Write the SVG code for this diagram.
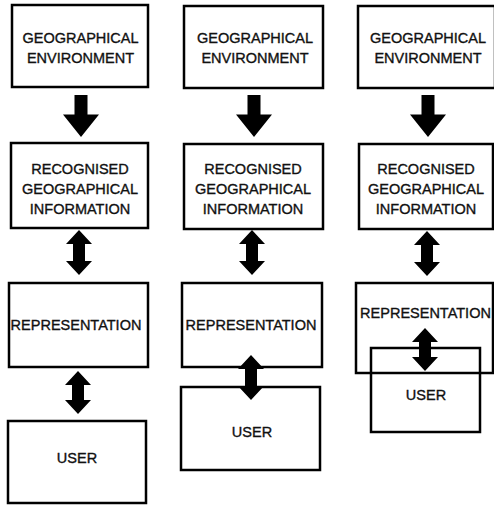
<svg xmlns="http://www.w3.org/2000/svg" xmlns:xlink="http://www.w3.org/1999/xlink" width="494" height="506" viewBox="0 0 494 506">
<style>
.box{fill:none;stroke:#000;stroke-width:2.5}
.lbl{font-family:"Liberation Sans",Arial,Helvetica,sans-serif;font-size:14.5px;fill:#111;stroke:#111;stroke-width:0.35;text-anchor:middle}
.arr{fill:#000}
</style>
<defs>
<polygon id="down" class="arr" points="-6.5,0 6.5,0 6.5,19.5 18,19.5 0,42 -18,19.5 -6.5,19.5"/>
<polygon id="dbl" class="arr" points="0,0 13,14 6,14 6,31 13,31 0,45 -13,31 -6,31 -6,14 -13,14"/>
<polygon id="dbl2" class="arr" points="0,0 13,14 6,14 6,29 13,29 0,43 -13,29 -6,29 -6,14 -13,14"/>
</defs>
<rect width="494" height="506" fill="#fff"/>

<g id="col1">
<g id="geo-env-1"><rect class="box" x="12" y="5" width="136" height="82"/>
<text class="lbl" x="80.5" y="42.5">GEOGRAPHICAL</text><text class="lbl" x="80.5" y="62.5">ENVIRONMENT</text></g>
<g id="rec-info-1"><rect class="box" x="11" y="143" width="137" height="85"/>
<text class="lbl" x="80" y="173.5">RECOGNISED</text><text class="lbl" x="80" y="193.5">GEOGRAPHICAL</text><text class="lbl" x="80" y="213.5">INFORMATION</text></g>
<g id="repr-1"><rect class="box" x="9" y="283" width="139" height="84"/>
<text class="lbl" x="76" y="330">REPRESENTATION</text></g>
<g id="user-1"><rect class="box" x="8" y="421" width="138" height="82"/>
<text class="lbl" x="77" y="463">USER</text></g>
</g>

<g id="col2">
<g id="geo-env-2"><rect class="box" x="184" y="6" width="139" height="82"/>
<text class="lbl" x="255" y="42.5">GEOGRAPHICAL</text><text class="lbl" x="255" y="62.5">ENVIRONMENT</text></g>
<g id="rec-info-2"><rect class="box" x="184" y="144" width="139" height="85"/>
<text class="lbl" x="253" y="173.5">RECOGNISED</text><text class="lbl" x="253" y="193.5">GEOGRAPHICAL</text><text class="lbl" x="253" y="213.5">INFORMATION</text></g>
<g id="repr-2"><rect class="box" x="182" y="283" width="140" height="84"/>
<text class="lbl" x="251" y="330">REPRESENTATION</text></g>
<g id="user-2"><rect class="box" x="181" y="387" width="139" height="83"/>
<text class="lbl" x="252" y="437">USER</text></g>
</g>

<g id="col3">
<g id="geo-env-3"><rect class="box" x="358" y="6" width="137" height="82"/>
<text class="lbl" x="428" y="42.5">GEOGRAPHICAL</text><text class="lbl" x="428" y="62.5">ENVIRONMENT</text></g>
<g id="rec-info-3"><rect class="box" x="359" y="144" width="134" height="85"/>
<text class="lbl" x="426" y="173.5">RECOGNISED</text><text class="lbl" x="426" y="193.5">GEOGRAPHICAL</text><text class="lbl" x="426" y="213.5">INFORMATION</text></g>
<g id="repr-3"><rect class="box" x="356" y="283" width="137" height="90"/>
<text class="lbl" x="425.5" y="318">REPRESENTATION</text></g>
<g id="user-3"><rect class="box" x="371" y="348" width="109" height="84"/>
<text class="lbl" x="426" y="400">USER</text></g>
</g>

<g id="connectors">
<use xlink:href="#down" x="81" y="95"/>
<use xlink:href="#down" x="254" y="95"/>
<use xlink:href="#down" x="428" y="95"/>
<use xlink:href="#dbl" x="79" y="230"/>
<use xlink:href="#dbl" x="252" y="230"/>
<use xlink:href="#dbl" x="427" y="231"/>
<use xlink:href="#dbl2" x="78" y="371"/>
<use xlink:href="#dbl" x="251" y="355"/>
<use xlink:href="#dbl2" x="425" y="328"/>
</g>
</svg>
